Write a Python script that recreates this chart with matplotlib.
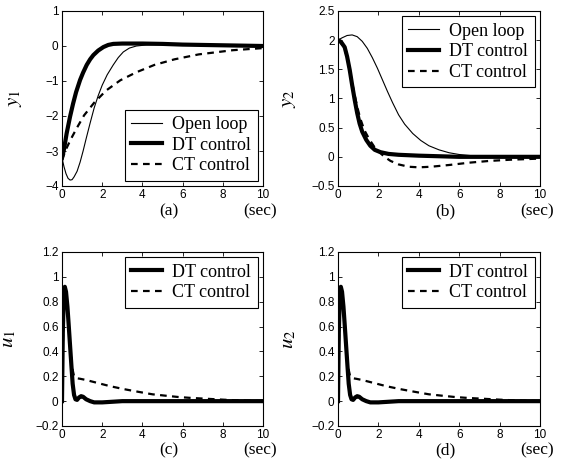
import numpy as np
import matplotlib
matplotlib.use("Agg")
import matplotlib.pyplot as plt
from matplotlib.ticker import FuncFormatter

plt.rcParams['font.family'] = ['Liberation Sans', 'DejaVu Sans']
plt.rcParams['mathtext.fontset'] = 'stix'

# y1 (a)
t_y1_ol = [0, 0.1, 0.2, 0.3, 0.4, 0.5, 0.6, 0.75, 0.9, 1.05, 1.2, 1.4, 1.6, 1.8, 2.0,
           2.25, 2.55, 2.8, 3.05, 3.35, 3.7, 4.2, 5, 6, 7, 8, 10]
y1_ol = [-3.2, -3.45, -3.65, -3.78, -3.83, -3.82, -3.74, -3.58, -3.32, -3.0, -2.65, -2.2,
         -1.77, -1.42, -1.12, -0.82, -0.54, -0.33, -0.17, -0.06, 0.0, 0.03, 0.04, 0.03,
         0.02, 0.01, 0.0]
t_y1_dt = [0, 0.1, 0.23, 0.4, 0.55, 0.7, 0.9, 1.05, 1.23, 1.4, 1.56, 1.8, 2.06, 2.3, 2.55,
           3, 4, 5, 6, 7, 8, 9, 10]
y1_dt = [-3.2, -2.95, -2.5, -2.02, -1.65, -1.32, -0.97, -0.76, -0.54, -0.38, -0.26, -0.13,
         -0.03, 0.03, 0.06, 0.07, 0.07, 0.06, 0.04, 0.03, 0.02, 0.01, 0.0]
t_y1_ct = [0, 0.2, 0.45, 0.75, 1.1, 1.6, 2.2, 2.9, 3.7, 4.6, 5.6, 6.8, 8.5, 10]
y1_ct = [-3.25, -2.95, -2.65, -2.33, -1.98, -1.62, -1.27, -0.98, -0.75, -0.54, -0.38,
         -0.24, -0.12, -0.06]

# y2 (b)
t_y2_ol = [0, 0.2, 0.45, 0.7, 0.95, 1.2, 1.45, 1.7, 1.95, 2.2, 2.45, 2.7, 3.0, 3.3, 3.7,
           4.1, 4.5, 5.0, 5.5, 6.0, 6.6, 7.2, 8, 10]
y2_ol = [2.0, 2.04, 2.08, 2.09, 2.06, 1.98, 1.86, 1.7, 1.52, 1.32, 1.12, 0.93, 0.72, 0.56,
         0.4, 0.28, 0.19, 0.12, 0.07, 0.04, 0.02, 0.01, 0.0, 0.0]
t_y2_dt = [0, 0.15, 0.33, 0.45, 0.58, 0.7, 0.83, 0.95, 1.07, 1.2, 1.4, 1.6, 1.82, 2.1, 2.5,
           3, 4, 5, 6, 10]
y2_dt = [2.0, 1.97, 1.88, 1.72, 1.49, 1.23, 0.97, 0.75, 0.57, 0.43, 0.29, 0.19, 0.12, 0.08,
         0.05, 0.035, 0.02, 0.01, 0.0, 0.0]
t_y2_ct = [0, 0.15, 0.35, 0.5, 0.65, 0.8, 0.95, 1.1, 1.3, 1.55, 1.8, 2.05, 2.3, 2.6, 3.0,
           3.5, 4.0, 4.6, 5.5, 6.5, 7.5, 8.5, 10]
y2_ct = [2.0, 1.95, 1.83, 1.62, 1.36, 1.1, 0.86, 0.66, 0.46, 0.3, 0.17, 0.08, 0.0, -0.07,
         -0.13, -0.17, -0.18, -0.17, -0.14, -0.1, -0.07, -0.05, -0.03]

# u1 (c) and u2 (d)
t_u_dt = [0, 0.04, 0.09, 0.14, 0.2, 0.27, 0.33, 0.4, 0.47, 0.53, 0.6, 0.67, 0.75, 0.85,
          0.95, 1.05, 1.2, 1.4, 1.6, 2.0, 2.5, 3, 10]
u1_dt = [0.0, 0.55, 0.86, 0.92, 0.88, 0.76, 0.62, 0.45, 0.28, 0.14, 0.05, 0.015, 0.01, 0.03,
         0.04, 0.035, 0.015, 0.0, -0.01, -0.01, -0.005, 0.0, 0.0]
u2_dt = [0.0, 0.55, 0.86, 0.92, 0.88, 0.76, 0.62, 0.45, 0.28, 0.14, 0.05, 0.015, 0.01, 0.03,
         0.04, 0.035, 0.015, 0.0, -0.01, -0.01, -0.005, 0.0, 0.0]
t_u_ct = [0, 0.05, 0.1, 0.15, 0.22, 0.3, 0.38, 0.45, 0.52, 0.6, 0.7, 0.9, 1.2, 1.8, 2.4,
          3.1, 3.8, 4.5, 5.2, 5.8, 6.5, 7.1, 8, 8.5, 9.3, 10]
u1_ct = [0.0, 0.5, 0.85, 0.9, 0.82, 0.68, 0.5, 0.36, 0.26, 0.2, 0.185, 0.18, 0.17, 0.145,
         0.12, 0.096, 0.075, 0.055, 0.043, 0.033, 0.025, 0.02, 0.012, 0.008, 0.004, 0.0]
u2_ct = [0.0, 0.5, 0.85, 0.9, 0.82, 0.68, 0.5, 0.36, 0.26, 0.2, 0.185, 0.18, 0.17, 0.145,
         0.12, 0.096, 0.075, 0.055, 0.043, 0.033, 0.025, 0.02, 0.012, 0.008, 0.004, 0.0]

serif = ['Liberation Serif', 'DejaVu Serif']
dash = (0, (3, 2.4))

fig = plt.figure(figsize=(5.71, 4.66), dpi=100)
W, H = 571.0, 466.0

def mkax(l, r, top, bot):
    return fig.add_axes([l / W, (H - bot) / H, (r - l) / W, (bot - top) / H])

axa = mkax(62, 263, 11, 186)
axb = mkax(338, 540, 11, 186)
axc = mkax(62, 263, 252, 426)
axd = mkax(338, 540, 252, 426)

fmt = FuncFormatter(lambda v, p: ('%g' % v).replace('-', '\u2212'))

def style(ax, ylim, ystep, ylab, lab, ylx):
    ax.set_xlim(0, 10)
    ax.set_ylim(*ylim)
    ax.set_xticks(np.arange(0, 11, 2))
    ax.set_yticks(np.arange(ylim[0], ylim[1] + ystep / 2, ystep))
    ax.yaxis.set_major_formatter(fmt)
    ax.xaxis.set_major_formatter(fmt)
    ax.tick_params(direction='in', top=True, right=True, length=3, width=0.6,
                   labelsize=8.5, pad=2.5)
    for s in ax.spines.values():
        s.set_linewidth(0.8)
    ax.set_ylabel(ylab, fontsize=15)
    ax.yaxis.set_label_coords(ylx, 0.5)
    ax.text(0.53, -0.143, lab, transform=ax.transAxes, ha='center', va='center',
            fontsize=12.5, family=serif)
    ax.text(0.985, -0.143, '(sec)', transform=ax.transAxes, ha='center', va='center',
            fontsize=12.5, family=serif)

def leg(ax, loc):
    ax.legend(loc=loc, prop={'family': serif, 'size': 13}, fancybox=False,
              edgecolor='black', framealpha=1, borderaxespad=0.3, handlelength=1.7,
              handletextpad=0.6, labelspacing=0.2, borderpad=0.35).get_frame().set_linewidth(0.8)

axa.plot(t_y1_ol, y1_ol, color='black', lw=0.8, label='Open loop')
axa.plot(t_y1_dt, y1_dt, color='black', lw=3, label='DT control')
axa.plot(t_y1_ct, y1_ct, color='black', lw=1.6, linestyle=dash, label='CT control')
style(axa, (-4, 1), 1, r'$y_{\mathit{1}}$', '(a)', -0.19)
leg(axa, 'lower right')

axb.plot(t_y2_ol, y2_ol, color='black', lw=0.8, label='Open loop')
axb.plot(t_y2_dt, y2_dt, color='black', lw=3, label='DT control')
axb.plot(t_y2_ct, y2_ct, color='black', lw=1.6, linestyle=dash, label='CT control')
style(axb, (-0.5, 2.5), 0.5, r'$y_{\mathit{2}}$', '(b)', -0.2)
leg(axb, 'upper right')

axc.plot(t_u_dt, u1_dt, color='black', lw=3, label='DT control')
axc.plot(t_u_ct, u1_ct, color='black', lw=1.6, linestyle=dash, label='CT control')
style(axc, (-0.2, 1.2), 0.2, r'$u_{\mathit{1}}$', '(c)', -0.22)
leg(axc, 'upper right')

axd.plot(t_u_dt, u2_dt, color='black', lw=3, label='DT control')
axd.plot(t_u_ct, u2_ct, color='black', lw=1.6, linestyle=dash, label='CT control')
style(axd, (-0.2, 1.2), 0.2, r'$u_{\mathit{2}}$', '(d)', -0.2)
leg(axd, 'upper right')

fig.savefig('out.png', dpi=100)
